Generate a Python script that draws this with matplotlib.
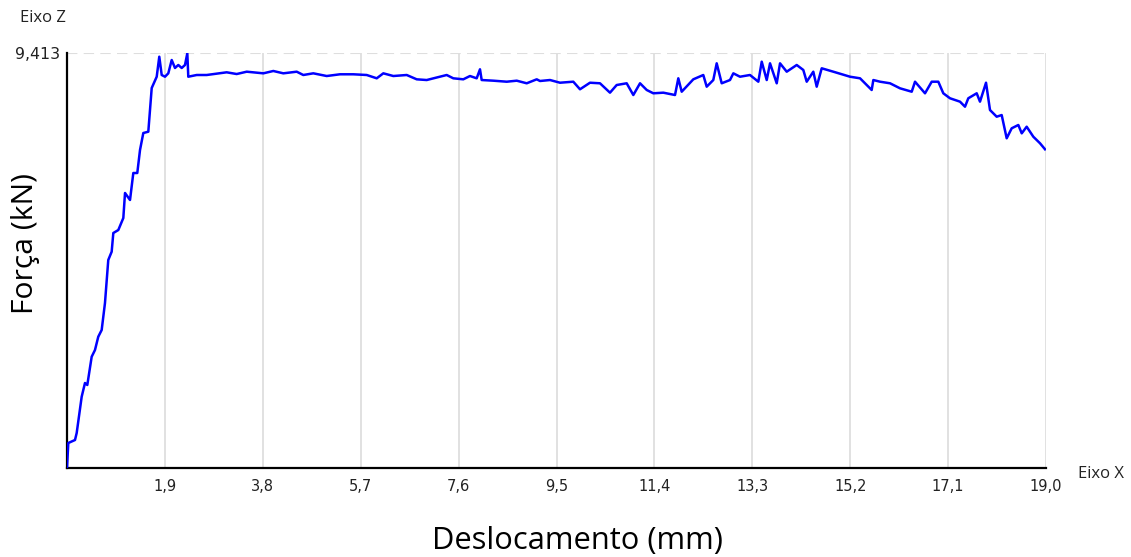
import matplotlib
matplotlib.use("Agg")
import matplotlib.pyplot as plt

# Displacement (mm)
deslocamento = [
    0.000, 0.025, 0.155, 0.188, 0.285, 0.349, 0.394, 0.479, 0.543, 0.607,
    0.673, 0.737, 0.801, 0.867, 0.899, 0.996, 1.093, 1.126, 1.223, 1.287,
    1.364, 1.417, 1.481, 1.578, 1.644, 1.741, 1.791, 1.838, 1.902, 1.966,
    2.032, 2.096, 2.160, 2.226, 2.290, 2.335, 2.354, 2.517, 2.711, 3.099,
    3.293, 3.488, 3.810, 4.004, 4.198, 4.458, 4.586, 4.780, 5.040, 5.298,
    5.557, 5.817, 6.011, 6.139, 6.333, 6.593, 6.787, 6.981, 7.239, 7.369,
    7.497, 7.691, 7.821, 7.951, 8.015, 8.048, 8.274, 8.534, 8.728, 8.922,
    9.116, 9.180, 9.374, 9.568, 9.826, 9.956, 10.150, 10.344, 10.538, 10.668,
    10.862, 10.991, 11.121, 11.251, 11.379, 11.573, 11.800, 11.864, 11.930, 12.155,
    12.349, 12.415, 12.543, 12.609, 12.706, 12.867, 12.932, 13.061, 13.255, 13.417,
    13.483, 13.580, 13.644, 13.774, 13.838, 13.968, 14.162, 14.290, 14.356, 14.484,
    14.550, 14.647, 14.872, 15.197, 15.391, 15.617, 15.649, 15.779, 15.973, 16.167,
    16.394, 16.458, 16.652, 16.782, 16.910, 17.007, 17.137, 17.331, 17.428, 17.492,
    17.655, 17.719, 17.836, 17.913, 18.043, 18.140, 18.237, 18.334, 18.463, 18.529,
    18.625, 18.754, 18.884, 18.981,
]

# Force (kN)
forca = [
    0.000, 0.567, 0.635, 0.794, 1.617, 1.928, 1.883, 2.524, 2.676, 2.978,
    3.130, 3.742, 4.718, 4.906, 5.330, 5.398, 5.670, 6.238, 6.079, 6.691,
    6.691, 7.213, 7.598, 7.628, 8.619, 8.875, 9.329, 8.914, 8.875, 8.952,
    9.254, 9.073, 9.141, 9.073, 9.141, 9.406, 8.875, 8.914, 8.914, 8.975,
    8.936, 8.989, 8.952, 9.005, 8.952, 8.989, 8.914, 8.952, 8.891, 8.930,
    8.930, 8.914, 8.839, 8.952, 8.891, 8.914, 8.816, 8.800, 8.875, 8.914,
    8.839, 8.816, 8.891, 8.839, 9.043, 8.800, 8.785, 8.762, 8.785, 8.726,
    8.816, 8.778, 8.800, 8.739, 8.762, 8.590, 8.739, 8.726, 8.513, 8.687,
    8.726, 8.460, 8.726, 8.574, 8.499, 8.513, 8.460, 8.839, 8.535, 8.816,
    8.914, 8.649, 8.800, 9.179, 8.726, 8.800, 8.952, 8.875, 8.914, 8.762,
    9.216, 8.800, 9.179, 8.726, 9.179, 8.989, 9.141, 9.028, 8.762, 8.989,
    8.649, 9.066, 8.989, 8.875, 8.839, 8.574, 8.800, 8.762, 8.726, 8.612,
    8.535, 8.762, 8.499, 8.762, 8.762, 8.499, 8.386, 8.309, 8.195, 8.386,
    8.499, 8.309, 8.739, 8.120, 7.968, 8.006, 7.478, 7.705, 7.780, 7.591,
    7.741, 7.514, 7.365, 7.229,
]

x_ticks = [1.9, 3.8, 5.7, 7.6, 9.5, 11.4, 13.3, 15.2, 17.1, 19.0]
x_tick_labels = ["1,9", "3,8", "5,7", "7,6", "9,5", "11,4", "13,3", "15,2", "17,1", "19,0"]
y_max = 9.413
y_max_label = "9,413"

fig = plt.figure(figsize=(11.31, 5.57), dpi=100)
ax = fig.add_axes([67 / 1131, 1 - 468 / 557, (1046 - 67) / 1131, (468 - 53) / 557])

ax.set_xlim(0, 19.0)
ax.set_ylim(0, y_max)

for xt in x_ticks:
    ax.axvline(xt, color="#dedede", lw=1.3, zorder=1)
ax.axhline(y_max, color="#dedede", lw=1.5, ls=(0, (5, 3)), zorder=1)

ax.plot(deslocamento, forca, color="#0000ff", lw=1.8, zorder=3)

ax.set_xticks(x_ticks)
ax.set_xticklabels(x_tick_labels, fontsize=10.5, color="#222222", family="DejaVu Sans")
ax.tick_params(axis="x", length=0, pad=8)
ax.set_yticks([y_max])
ax.set_yticklabels([y_max_label], fontsize=11.3, color="#222222", family="DejaVu Sans")
ax.tick_params(axis="y", length=0, pad=5)

for side in ["top", "right"]:
    ax.spines[side].set_visible(False)
for side in ["left", "bottom"]:
    ax.spines[side].set_color("black")
    ax.spines[side].set_linewidth(1.6)

fig.text(20 / 1131, 1 - 18 / 557, "Eixo Z", fontsize=12, color="#222222",
         ha="left", va="center", family="Open Sans")
fig.text(1078 / 1131, 1 - 474 / 557, "Eixo X", fontsize=12, color="#222222",
         ha="left", va="center", family="Open Sans")
fig.text(578 / 1131, 1 - 541 / 557, "Deslocamento (mm)", fontsize=22.2, color="black",
         ha="center", va="center", family="Open Sans")
fig.text(25 / 1131, 1 - 244 / 557, "Força (kN)", fontsize=21.6, color="black",
         ha="center", va="center", rotation=90, family="Open Sans")

fig.savefig("out.png", dpi=100)
